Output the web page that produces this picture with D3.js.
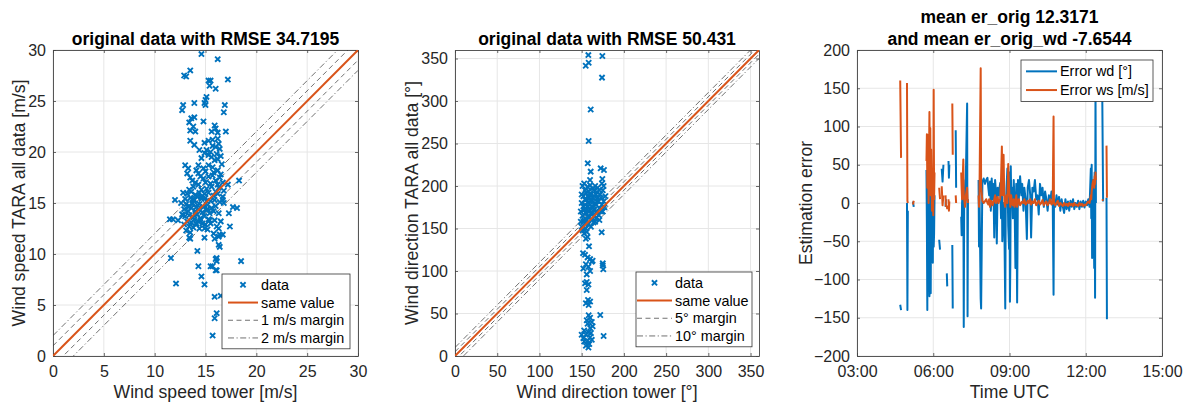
<!DOCTYPE html>
<html>
<head>
<meta charset="utf-8">
<script src="https://cdn.jsdelivr.net/npm/d3@7"></script>
<style>
  body { margin: 0; background: #fff; }
  svg { font-family: "Liberation Sans", Arial, sans-serif; }
</style>
</head>
<body>
<svg id="fig" width="1185" height="403"></svg>
<script>
// ---- panel 1: wind speed tower vs TARA [m/s] ----
const wsTower = [14.6,16.2,13.5,12.9,13.1,15.3,15.5,15.4,17.2,16.0,15.1,15.0,14.9,15.0,12.8,12.7,13.9,16.9,16.8,
  13.6,13.9,13.4,13.8,14.0,13.5,14.8,15.9,16.0,16.2,15.6,17.0,15.3,14.9,15.7,16.2,16.3,13.5,13.9,15.1,15.3,15.6,15.9,16.2,14.6,
  14.3,14.8,15.3,15.7,16.2,16.6,13.0,13.3,13.2,14.3,14.8,15.3,15.7,16.0,16.5,18.3,13.7,13.8,14.3,13.4,14.6,15.1,15.6,16.0,16.3,16.7,
  15.7,16.0,16.4,16.1,15.5,14.9,16.5,14.4,15.8,15.0,
  13.5,14.0,14.5,15.0,15.5,16.2,14.1,16.8,17.2,16.4,
  12.8,13.2,13.6,14.0,14.4,14.9,15.3,15.8,16.2,16.7,13.0,13.5,13.9,14.2,14.6,15.0,15.5,15.9,16.4,12.6,
  13.1,13.4,13.7,14.1,14.4,14.8,15.2,15.6,16.0,12.9,13.3,13.6,14.0,14.3,14.7,15.1,15.4,15.8,16.3,12.7,
  13.0,13.4,13.8,14.2,14.5,14.9,15.3,13.2,13.6,13.9,14.3,14.7,15.0,15.5,16.5,13.4,13.8,14.1,14.4,15.2,12.9,13.1,
  12.0,11.5,12.3,12.8,15.4,15.9,16.1,16.3,17.4,16.7,17.7,18.1,17.3,14.9,14.9,13.4,13.5,13.5,15.8,15.9,16.3,16.7,16.4,
  16.3,16.4,14.2,11.6,16.1,16.1,16.0,18.5,14.3,15.5,15.7,16.1,16.0,14.6,12.1,14.9,15.9,16.5,16.1,15.9,15.7,11.8,16.8,
  13.7,14.2,14.6,15.1,13.3,14.0,14.5,13.8,15.2,14.1];
const wsTara = [29.6,29.1,28.0,27.5,27.4,27.0,27.0,26.5,27.1,26.2,25.4,25.1,24.8,24.6,24.6,24.1,24.8,24.6,23.9,
  23.3,23.4,22.9,22.5,22.0,22.1,23.0,22.6,22.3,21.9,22.0,22.0,21.1,20.9,21.2,21.3,20.8,21.1,20.7,20.2,19.7,19.5,19.2,19.3,19.4,
  18.7,18.4,18.7,18.5,18.2,18.8,18.7,18.4,17.9,17.9,17.4,17.6,17.7,17.2,17.8,17.2,17.2,16.6,16.8,16.3,16.3,16.4,16.6,16.1,16.5,17.0,
  20.6,20.5,20.3,19.8,20.0,19.9,19.6,20.2,18.0,18.1,
  17.5,17.0,17.6,17.0,16.9,16.8,18.2,16.2,16.8,17.5,
  16.0,15.9,16.1,15.8,16.0,15.9,16.0,15.7,15.9,15.6,15.4,15.5,15.3,15.6,15.4,15.5,15.2,15.3,15.1,15.0,
  14.9,14.7,14.9,14.6,14.9,14.6,14.8,14.5,14.7,14.4,14.2,14.5,14.2,14.4,14.1,14.3,14.0,14.2,14.0,13.9,
  13.7,13.8,13.6,13.9,13.5,13.7,13.4,13.2,13.1,13.4,13.2,13.0,12.9,13.0,13.2,12.7,12.6,12.9,12.5,12.4,12.9,12.3,
  15.3,13.4,13.3,13.8,13.3,13.3,12.7,12.5,12.7,15.3,14.6,14.5,14.0,12.5,11.6,11.6,12.1,11.5,12.0,11.5,11.7,11.9,11.9,
  10.9,10.7,10.3,9.6,9.6,9.3,9.5,9.3,8.8,8.8,8.8,8.4,8.4,7.8,7.1,7.0,5.8,5.9,4.2,3.7,2.0,13.4,15.0,
  15.0,14.8,15.6,15.2,14.6,14.0,13.3,15.4,14.4,13.0];
const wsMargins = [1, 2];

// ---- panel 2: wind direction tower vs TARA [deg] ----
const wdTower = [157.9,174.5,154.8,158.3,174.1,160.7,158.3,157.2,160.7,172.5,176.4,159.9,174.5,
  173.7,157,155,158.7,151.6,154,157,160,162,155,158,152,160,163,156,174.9,175.6,175,154,156,158,156,157.5,158.3,160,155,
  158.3,160,172,162,157,160,153,158,155,150,160,157,153,159,155,158,162,152,161,176,156,163,
  150,152,151,153,150,152,154,151,153,155,156,155,157,156,155,157,158,159,158,160,159,158,160,161,162,161,163,162,161,163,
  164,165,164,166,165,164,167,168,167,169,168,170,171,170,172,173,174,173,175,176,177,176,178,166,169,153,154,157,159,162,
  163,165,166,168,171,174,156,158,160,149,150,152,154,155,157,161,163,167,171,175,149,151,153,156];
const wdTara = [354,353,341.5,345,327.5,290,253,226.7,216.9,220.8,218.8,207,208.2,
  145.5,140,138,129,121,119,116,114,111,108,105,103,100,112,96,106.6,102,109,85.5,87,84,77.6,66,60,64,62,
  48,45,48.2,40,38,33,30,28,25,25,22,18,17,14,12,10,19,21,27,23.5,42,35,
  152,158,165,172,180,188,195,200,203,150,160,168,176,184,192,199,155,163,171,178,186,194,201,152,160,168,175,183,190,197,
  157,165,172,180,188,195,162,170,178,186,193,166,174,182,190,170,178,186,195,182,175,200,188,200,198,160,178,188,170,176,
  186,172,158,182,195,203,172,180,190,170,190,176,184,156,164,182,168,190,160,170,158,148,144,146];
const wdMargins = [5, 10];

// ---- panel 3: estimation error time series (null = no data) ----
const errTime = ["04:42","04:44","04:46","04:58","04:59","05:00","05:02","05:12","05:14","05:16",
  "05:44","05:45","05:46","05:47","05:48","05:49","05:51","05:52","05:53","05:54","05:55","05:57","05:58","05:59","06:00","06:01","06:02","06:03","06:04",
  "06:14","06:16","06:18","06:20","06:22","06:24","06:26","06:29","06:30","06:31","06:32","06:33","06:34","06:36","06:37","06:38","06:39",
  "06:45","06:46","06:47","06:53","06:54","06:55",
  "07:06","07:07","07:08","07:11","07:12","07:13","07:15","07:17","07:20","07:21","07:22","07:23",
  "07:47","07:48","07:49","07:52","07:53","07:56","07:59","08:02","08:05","08:08","08:10","08:12","08:14","08:16","08:18","08:20","08:22","08:24",
  "08:26","08:28","08:30","08:32","08:34","08:38","08:40","08:42","08:43","08:46","08:48","08:50","08:51","08:53","08:55","08:57","08:59",
  "09:00","09:01","09:02","09:03","09:04","09:06","09:08","09:10","09:12","09:14","09:16","09:18","09:20","09:22","09:25","09:28","09:30",
  "09:33","09:35","09:38","09:41","09:43","09:46","09:49","09:51","09:54","09:57","10:00","10:03","10:06","10:09","10:12","10:15","10:18",
  "10:21","10:24","10:27","10:30","10:33","10:36","10:39","10:42","10:44","10:45","10:48","10:51","10:54","10:57","11:00","11:03","11:06",
  "11:09","11:12","11:15","11:18","11:21","11:24","11:27","11:30","11:33","11:36","11:39","11:42","11:45","11:48","11:51","11:54","11:57",
  "12:00","12:03","12:06","12:09","12:12","12:13","12:14","12:15","12:16","12:18","12:20","12:21","12:22","12:23","12:24","12:25",
  "12:39","12:41","12:42","12:49","12:50","12:51"];
const errWd = [-133,-140,null,0,-140,-10,null,2,-5,null,
  43,-30,-140,40,-100,10,-122,30,-60,-118,20,-40,15,-78,25,-57,-40,10,null,
  -48,-61,null,45,28,50,null,-5,5,null,-92,-109,null,55,33,50,null,
  -55,-138,null,95,20,null,
  -18,-42,0,30,-162,0,10,35,130,-148,5,null,
  30,-57,20,-125,-138,28,32,25,30,33,20,10,28,-10,32,5,25,-45,
  30,15,-53,20,10,26,-20,30,-50,0,-35,-138,-10,20,45,-30,-60,
  40,-129,-77,48,10,20,-20,30,0,-85,25,-130,30,5,35,10,25,
  -10,20,5,-47,20,30,10,-45,20,15,30,5,10,-15,25,10,20,
  -5,15,5,-10,10,0,15,5,-120,5,-5,10,-2,8,-10,5,-5,
  -13,5,-8,2,-10,3,-5,5,-8,0,-5,3,-8,2,-5,3,-6,
  2,-3,5,-5,45,-20,50,-72,30,10,-85,40,-124,148,0,null,
  140,2,null,7,-152,null];
const errWs = [160,59,null,157,3,0,null,-2,3,null,
  55,90,20,60,89,0,119,40,98,10,70,-10,30,20,-16,148,5,40,null,
  20,5,null,22,-3,10,null,10,-5,null,-3,-8,null,5,-10,2,null,
  130,63,null,10,0,null,
  40,20,5,57,10,5,-5,10,20,5,0,null,
  10,-5,5,176,21,3,0,2,5,0,-2,5,-5,3,2,-3,0,5,
  10,0,5,8,0,5,30,74,10,63,0,-5,5,10,0,51,20,
  10,5,-5,0,10,0,-3,5,-5,0,10,-5,0,5,-3,0,2,
  0,5,-2,0,3,0,5,-2,2,0,5,-3,0,3,-2,0,4,
  -3,0,2,-3,0,5,-2,0,113,0,-3,0,3,-4,0,-2,-4,
  0,-3,-1,-4,0,-3,-1,-4,0,-3,-2,-4,0,-3,-1,-4,-2,
  -3,0,2,0,10,5,15,20,25,30,20,35,25,40,30,null,
  5,3,null,75,7,null];
const timeTicks = ["03:00","06:00","09:00","12:00","15:00"];

// ---- styling ----
const blue = "#0072BD", orange = "#D95319";
const axisColor = "#262626", gridColor = "#e6e6e6";
const plotTop = 50, plotBottom = 356;

const svg = d3.select("#fig");
const defs = svg.append("defs");

function makeAxes(id, left, right, x, y, xTicks, yTicks, xFmt) {
  x.range([left, right]);
  y.range([plotBottom, plotTop]);
  defs.append("clipPath").attr("id", id)
    .append("rect").attr("x", left).attr("y", plotTop)
    .attr("width", right - left).attr("height", plotBottom - plotTop);

  const g = svg.append("g");
  // grid
  g.selectAll(".gx").data(xTicks).enter().append("line")
    .attr("x1", d => x(d)).attr("x2", d => x(d))
    .attr("y1", plotTop).attr("y2", plotBottom)
    .attr("stroke", gridColor).attr("stroke-width", 1);
  g.selectAll(".gy").data(yTicks).enter().append("line")
    .attr("y1", d => y(d)).attr("y2", d => y(d))
    .attr("x1", left).attr("x2", right)
    .attr("stroke", gridColor).attr("stroke-width", 1);

  // axes with inward ticks
  const ax = svg.append("g").attr("transform", "translate(0," + plotBottom + ")")
    .call(d3.axisBottom(x).tickValues(xTicks).tickSizeInner(-3).tickSizeOuter(0).tickPadding(10).tickFormat(xFmt));
  const ay = svg.append("g").attr("transform", "translate(" + left + ",0)")
    .call(d3.axisLeft(y).tickValues(yTicks).tickSizeInner(-3).tickSizeOuter(0).tickPadding(7));
  const at = svg.append("g").attr("transform", "translate(0," + plotTop + ")")
    .call(d3.axisTop(x).tickValues(xTicks).tickSizeInner(-3).tickSizeOuter(0).tickFormat(""));
  const ar = svg.append("g").attr("transform", "translate(" + right + ",0)")
    .call(d3.axisRight(y).tickValues(yTicks).tickSizeInner(-3).tickSizeOuter(0).tickFormat(""));
  [ax, ay, at, ar].forEach(a => {
    a.select(".domain").attr("stroke", "#444").attr("stroke-width", 0.9);
    a.selectAll(".tick line").attr("stroke", "#444").attr("stroke-width", 0.8);
    a.selectAll("text").attr("fill", axisColor).style("font-size", "16px")
      .style("font-family", "'Liberation Sans', Arial, sans-serif");
  });
  return g;
}

function title(lines, cx) {
  const t = svg.append("text").attr("text-anchor", "middle")
    .attr("fill", "#000").style("font-size", "17.5px").style("font-weight", "bold");
  lines.forEach((s, i) => {
    t.append("tspan").attr("x", cx)
      .attr("y", 45 - (lines.length - 1 - i) * 22).text(s);
  });
}

function labels(xl, yl, left, right, ylx) {
  svg.append("text").attr("x", (left + right) / 2).attr("y", 392).attr("dy", "0.35em")
    .attr("text-anchor", "middle").attr("fill", axisColor).style("font-size", "17.6px").text(xl);
  svg.append("text").attr("transform", "translate(" + ylx + "," + (plotTop + plotBottom) / 2 + ") rotate(-90)")
    .attr("dy", "0.35em").attr("text-anchor", "middle").attr("fill", axisColor)
    .style("font-size", "17.6px").text(yl);
}

function legend(x0, y0, w, rows, textX, lineX0, lineX1) {
  const rowH = rows.length > 2 ? 17.7 : 18.7;
  const h = rows.length * rowH + 4;
  const lg = svg.append("g");
  lg.append("rect").attr("x", x0).attr("y", y0).attr("width", w).attr("height", h)
    .attr("fill", "#fff").attr("stroke", "#333").attr("stroke-width", 0.8);
  rows.forEach((r, i) => {
    const cy = y0 + 2 + rowH * (i + 0.5);
    if (r.type === "marker") {
      const mx = (lineX0 + lineX1) / 2;
      lg.append("path").attr("d", "M" + (mx - 2.6) + "," + (cy - 2.6) + "l5.2,5.2m0,-5.2l-5.2,5.2")
        .attr("stroke", r.color).attr("stroke-width", 1.9);
    } else {
      lg.append("line").attr("x1", lineX0).attr("x2", lineX1).attr("y1", cy).attr("y2", cy)
        .attr("stroke", r.color).attr("stroke-width", r.width)
        .attr("stroke-dasharray", r.dash || null);
    }
    lg.append("text").attr("x", textX).attr("y", cy).attr("dy", "0.35em")
      .attr("fill", "#000").style("font-size", "14.4px").text(r.label);
  });
}

function scatterPanel(id, left, right, max, ticks, xs, ys, margins, texts) {
  const x = d3.scaleLinear().domain([0, max]);
  const y = d3.scaleLinear().domain([0, max]);
  makeAxes(id, left, right, x, y, ticks, ticks, d3.format("d"));
  const plot = svg.append("g").attr("clip-path", "url(#" + id + ")");

  // margin lines, drawn under the data
  const dashes = ["5,3.5", "6,2.5,1.2,2.5"];
  margins.forEach((m, k) => {
    [-m, m].forEach(off => {
      plot.append("line")
        .attr("x1", x(0)).attr("y1", y(off))
        .attr("x2", x(max)).attr("y2", y(max + off))
        .attr("stroke", "#333").attr("stroke-width", 0.7)
        .attr("stroke-dasharray", dashes[k]);
    });
  });

  plot.selectAll(".pt").data(xs).enter().append("path")
    .attr("d", (d, i) => {
      const px = x(d), py = y(ys[i]);
      return "M" + (px - 2.6) + "," + (py - 2.6) + "l5.2,5.2m0,-5.2l-5.2,5.2";
    })
    .attr("stroke", blue).attr("stroke-width", 1.9).attr("fill", "none");

  plot.append("line")
    .attr("x1", x(0)).attr("y1", y(0)).attr("x2", x(max)).attr("y2", y(max))
    .attr("stroke", orange).attr("stroke-width", 2);

  title([texts.title], (left + right) / 2);
  labels(texts.xl, texts.yl, left, right, texts.ylx);
  return { x, y };
}

// panel 1
scatterPanel("c1", 53, 358, 30, d3.range(0, 31, 5), wsTower, wsTara, wsMargins, {
  title: "original data with RMSE 34.7195",
  xl: "Wind speed tower [m/s]", yl: "Wind speed TARA all data [m/s]", ylx: 19
});
legend(222, 274, 128, [
  { type: "marker", color: blue, label: "data" },
  { color: orange, width: 2, label: "same value" },
  { color: "#333", width: 0.7, dash: "5,3.5", label: "1 m/s margin" },
  { color: "#333", width: 0.7, dash: "6,2.5,1.2,2.5", label: "2 m/s margin" }
], 261, 228, 258);

// panel 2
scatterPanel("c2", 455, 759, 360, d3.range(0, 351, 50), wdTower, wdTara, wdMargins, {
  title: "original data with RMSE 50.431",
  xl: "Wind direction tower [°]", yl: "Wind direction TARA all data [°]", ylx: 412
});
legend(636, 272, 116, [
  { type: "marker", color: blue, label: "data" },
  { color: orange, width: 2, label: "same value" },
  { color: "#333", width: 0.7, dash: "5,3.5", label: "5° margin" },
  { color: "#333", width: 0.7, dash: "6,2.5,1.2,2.5", label: "10° margin" }
], 675, 637, 672);

// panel 3
const parseT = d3.timeParse("%H:%M");
const tx = d3.scaleTime().domain([parseT("03:00"), parseT("15:00")]);
const ty = d3.scaleLinear().domain([-200, 200]);
makeAxes("c3", 857, 1162, tx, ty, timeTicks.map(parseT), d3.range(-200, 201, 50), d3.timeFormat("%H:%M"));
const plot3 = svg.append("g").attr("clip-path", "url(#c3)");
const series = [errWd, errWs];
const colors = [blue, orange];
series.forEach((vals, k) => {
  const line = d3.line()
    .defined((d, i) => vals[i] !== null)
    .x((d, i) => tx(parseT(errTime[i])))
    .y((d, i) => ty(vals[i]));
  plot3.append("path").datum(vals)
    .attr("d", line)
    .attr("fill", "none").attr("stroke", colors[k]).attr("stroke-width", 2)
    .attr("stroke-linejoin", "round");
});
title(["mean er_orig 12.3171", "and mean er_orig_wd -7.6544"], (857 + 1162) / 2);
labels("Time UTC", "Estimation error", 857, 1162, 806);
legend(1021, 60, 132, [
  { color: blue, width: 2, label: "Error wd [°]" },
  { color: orange, width: 2, label: "Error ws [m/s]" }
], 1060, 1026, 1057);
</script>
</body>
</html>
